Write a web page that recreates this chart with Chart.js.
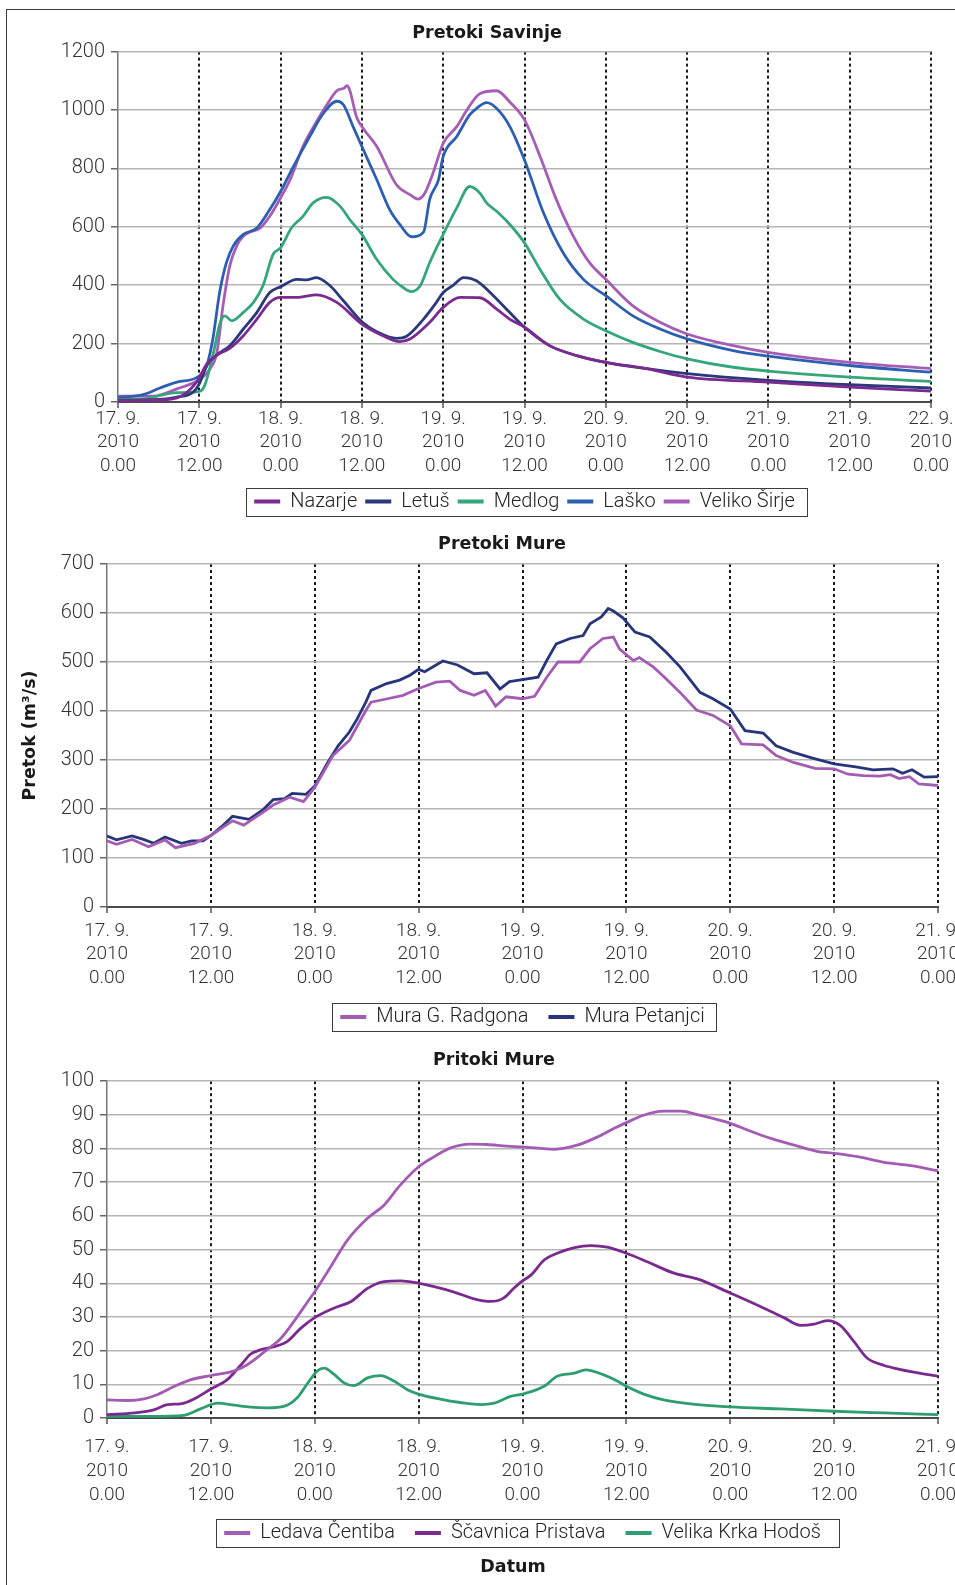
<!DOCTYPE html>
<html>
<head>
<meta charset="utf-8">
<title>Pretoki Savinje in Mure</title>
<script src="https://cdn.jsdelivr.net/npm/chart.js@4.4.1/dist/chart.umd.min.js"></script>
<style>
  html, body { margin: 0; padding: 0; background: #fff; overflow: hidden; width: 955px; height: 1585px; }
  #frame { position: absolute; left: 6px; top: 9px; width: 1000px; height: 1600px;
           border-left: 1px solid #3a3a3a; border-top: 1px solid #3a3a3a; }
  canvas { position: absolute; left: 0; }
  #datum { position: absolute; left: 453px; width: 120px; top: 1555px; height: 22px; line-height: 22px;
           text-align: center; font-family: "DejaVu Sans", sans-serif; font-weight: bold; font-size: 17.5px; color: #1a1a1a; }
</style>
</head>
<body>
<div id="frame"></div>
<canvas id="savinje" width="1000" height="510" style="top:12px"></canvas>
<canvas id="mura" width="1070" height="514" style="top:524px"></canvas>
<canvas id="pritoki" width="1000" height="516" style="top:1040px"></canvas>
<div id="datum">Datum</div>
<script>
// ---- time axis labels (hours from 17. 9. 2010 0.00, every 12 h) ----
const tickDays = ['17. 9.', '17. 9.', '18. 9.', '18. 9.', '19. 9.', '19. 9.', '20. 9.', '20. 9.', '21. 9.', '21. 9.', '22. 9.'];
const tickTimes = ['0.00', '12.00', '0.00', '12.00', '0.00', '12.00', '0.00', '12.00', '0.00', '12.00', '0.00'];
const tickYear = '2010';

// ---- Pretoki Savinje (m3/s) ----
const nazarjeHours = [0, 5, 8.7, 11.6, 13.1, 14.6, 16.5, 18.5, 20.5, 22.4, 24, 26.4, 29.3, 32.3, 36, 39.1, 41.6, 43.1, 46, 48, 50.5, 53.4, 55.9, 57.8, 60, 63.7, 67.7, 72, 78, 84, 96, 108, 120];
const nazarjeFlow  = [5, 6, 14, 68, 130, 161, 184, 227, 284, 341, 358, 358, 367, 341, 267, 227, 207, 216, 273, 324, 358, 357, 318, 284, 256, 193, 159, 136, 114, 85, 68, 51, 37];

const letusHours = [0, 6.2, 8.7, 11.1, 12, 13.1, 14.6, 16.5, 18.5, 20.5, 22.4, 24, 26.4, 27.8, 29.3, 31.3, 33.3, 36, 38.2, 41.1, 42.6, 45.1, 47, 48, 49.5, 51, 52.9, 55.4, 57.8, 60, 63.7, 67.7, 72, 78, 84, 96, 108, 120];
const letusFlow  = [6, 9, 17, 34, 62, 125, 161, 193, 250, 307, 375, 395, 420, 418, 426, 398, 346, 275, 241, 218, 225, 284, 341, 375, 400, 426, 415, 364, 307, 256, 193, 159, 136, 114, 97, 74, 59, 48];

const medlogHours = [0, 3.7, 8.7, 12, 12.8, 14.1, 15.1, 15.8, 16.8, 18.5, 20, 21.4, 22.9, 24, 25.6, 27.3, 28.8, 30.8, 32.8, 34.2, 36, 38.2, 40.6, 42.1, 43.3, 44.6, 46, 48, 50, 51.9, 53.4, 54.4, 55.9, 58.3, 60, 62.3, 65.2, 68.7, 72, 76, 80, 84, 90.8, 96, 108, 120];
const medlogFlow  = [9, 11, 32, 36, 57, 170, 273, 295, 278, 307, 341, 398, 506, 528, 596, 636, 682, 701, 670, 625, 574, 488, 420, 392, 378, 398, 477, 574, 665, 738, 716, 682, 653, 596, 545, 454, 352, 284, 244, 204, 173, 148, 119, 106, 85, 70];

const laskoHours = [0, 3.7, 6.2, 8.7, 12, 13.1, 14, 15, 16, 17, 18.5, 20.5, 22.4, 24, 25.9, 28.3, 30.3, 32.3, 33.3, 34.7, 36, 38.2, 40.1, 41.6, 43.3, 45.1, 46, 47.3, 48, 50, 51.9, 52.9, 54.4, 55.9, 57.8, 60, 62.8, 65.7, 68.7, 72, 76, 80, 84, 90.8, 96, 108, 120];
const laskoFlow  = [15, 25, 48, 68, 89, 125, 216, 375, 477, 534, 574, 596, 659, 721, 807, 909, 988, 1030, 1017, 943, 875, 761, 659, 608, 566, 582, 693, 761, 841, 909, 983, 1005, 1025, 1005, 945, 829, 648, 511, 420, 364, 295, 250, 216, 176, 157, 125, 102];

const sirjeHours = [0, 5.2, 8.7, 12, 13.6, 14.6, 15.5, 16.5, 17.5, 18.5, 19.5, 21, 22.4, 24, 25.4, 27.3, 29.3, 30.8, 32.3, 33.3, 33.8, 34.2, 35.2, 36.2, 38.2, 41.1, 43.1, 44.3, 45.3, 46.5, 48, 50, 51.5, 53.4, 55.9, 57.8, 60, 62.3, 64.7, 67.2, 69.6, 72, 76, 80, 84, 90.8, 96, 108, 120];
const sirjeFlow  = [20, 20, 45, 77, 114, 170, 330, 466, 534, 568, 582, 596, 636, 699, 761, 875, 960, 1017, 1066, 1074, 1083, 1068, 977, 937, 875, 744, 710, 695, 716, 784, 886, 943, 1000, 1056, 1066, 1028, 966, 841, 693, 568, 477, 420, 329, 273, 233, 193, 170, 136, 114];

// ---- Pretoki Mure (m3/s) ----
const radgonaHours = [0, 1.1, 2.9, 4.8, 6.7, 7.9, 10.1, 12, 14.5, 15.8, 18, 19.2, 21.1, 22.7, 24, 26.1, 28, 29.9, 30.5, 32.4, 34.2, 36, 38, 39.6, 40.8, 42.4, 43.7, 44.9, 46.1, 48, 49.4, 50.8, 52.1, 54.6, 55.8, 57.3, 58.5, 59.2, 60.8, 61.5, 63.1, 64.4, 66.2, 68.1, 70, 72, 73.3, 75.8, 77.3, 79.3, 81.8, 84, 85.6, 87.4, 89.3, 90.5, 91.5, 92.7, 93.8, 96];
const radgonaFlow  = [135, 128, 138, 123, 137, 121, 130, 146, 176, 167, 193, 208, 224, 215, 244, 309, 340, 401, 418, 425, 432, 446, 459, 461, 442, 432, 442, 410, 429, 425, 430, 469, 500, 500, 527, 548, 551, 527, 503, 509, 490, 469, 438, 402, 391, 370, 333, 331, 309, 295, 283, 282, 271, 268, 267, 270, 262, 266, 251, 248];

const petanjciHours = [0, 1.1, 2.9, 4.2, 5.4, 6.7, 8.6, 9.8, 11.1, 12, 13.3, 14.5, 16.4, 18, 19.2, 20.5, 21.4, 23, 24, 25.5, 26.7, 28, 28.9, 29.9, 30.5, 32.3, 33.8, 35, 36, 36.7, 38.8, 40.5, 42.4, 43.9, 45.4, 46.5, 48, 49.8, 50.8, 51.9, 53.5, 55, 55.8, 57.1, 57.9, 58.5, 59.6, 61, 62.7, 64.6, 66.2, 68.5, 70, 72, 73.7, 75.8, 77.3, 79.2, 81.5, 84, 86.5, 88.5, 90.8, 91.9, 93, 94.4, 96];
const petanjciFlow  = [145, 137, 145, 138, 130, 143, 130, 135, 135, 146, 165, 185, 179, 198, 219, 221, 232, 230, 247, 295, 329, 357, 384, 418, 442, 456, 463, 473, 485, 480, 502, 494, 476, 478, 445, 460, 464, 469, 503, 537, 548, 554, 578, 592, 609, 604, 590, 561, 551, 520, 490, 438, 425, 404, 360, 355, 329, 316, 304, 292, 286, 280, 282, 273, 280, 265, 266];

// ---- Pritoki Mure (m3/s) ----
const ledavaHours = [0, 2.4, 4.3, 5.8, 7.8, 9.7, 12, 14.7, 16.2, 18.5, 20.1, 21.6, 23.2, 24, 25.5, 27.8, 30.1, 32, 33.9, 36, 37.8, 39.7, 42, 43.9, 46.2, 48, 51.7, 54.3, 56.7, 58.6, 60, 62, 64.3, 66.3, 68.2, 70.1, 72, 74.3, 76.7, 79.7, 82, 84, 86.7, 89.8, 92.9, 96];
const ledavaFlow  = [5.4, 5.2, 5.7, 6.9, 9.4, 11.4, 12.6, 14.0, 15.8, 20.3, 23.7, 28.7, 34.6, 37.5, 43.5, 52.9, 59.3, 63.2, 69.2, 74.6, 77.6, 80.2, 81.3, 81.2, 80.7, 80.5, 79.8, 81, 83.5, 86, 87.7, 89.9, 91.1, 91.1, 90.1, 88.9, 87.5, 85.2, 83, 80.8, 79.2, 78.6, 77.6, 75.9, 74.9, 73.4];

const scavnicaHours = [0, 3.2, 5.5, 7, 8.5, 10.1, 12, 13.9, 15.5, 16.6, 17.8, 19.3, 20.8, 22.4, 24, 26.2, 28.2, 30.1, 32, 33.9, 36, 37.8, 40.1, 42.4, 44.3, 45.8, 47, 48, 49, 50.5, 52, 54, 55.9, 57.8, 60, 62.4, 65.5, 68.2, 72, 75.9, 78.2, 80.1, 81.7, 83.2, 84.7, 86.3, 87.8, 89.8, 91.3, 93.2, 96];
const scavnicaFlow  = [1.0, 1.5, 2.5, 4.0, 4.2, 5.7, 8.6, 11.4, 15.8, 19, 20.3, 21.2, 22.7, 26.7, 29.8, 32.6, 34.6, 38.5, 40.5, 40.7, 40.0, 39.0, 37.4, 35.4, 34.6, 35.6, 38.5, 40.7, 42.5, 46.9, 48.9, 50.6, 51.2, 50.7, 48.9, 46.4, 43, 41.3, 37.1, 32.6, 29.8, 27.5, 27.9, 28.9, 27.5, 22.7, 17.8, 15.6, 14.6, 13.6, 12.4];

const krkaHours = [0, 5.1, 8.9, 10.8, 12.8, 14.7, 16.6, 18.5, 20.5, 22, 23.2, 24.3, 25.1, 26.2, 27.4, 28.5, 30.1, 31.6, 33.2, 34.7, 36, 38.5, 40.8, 43.2, 44.7, 46.6, 48, 50.5, 52, 54, 55.3, 57.4, 59, 60, 62, 64.3, 67.4, 72, 77.8, 84, 89.8, 96];
const krkaFlow  = [0.5, 0.5, 0.8, 2.7, 4.4, 3.8, 3.2, 3.0, 3.5, 6.1, 10.4, 14.0, 14.8, 13.0, 10.4, 9.6, 11.9, 12.6, 10.9, 8.4, 7.1, 5.6, 4.6, 4.0, 4.4, 6.4, 7.1, 9.4, 12.4, 13.3, 14.3, 12.8, 10.9, 9.4, 7.1, 5.4, 4.2, 3.3, 2.7, 2.0, 1.5, 1.0];

// ---- shared styling ----
Chart.defaults.font.family = "Roboto, 'Liberation Sans', sans-serif";
Chart.defaults.color = '#333';
const headFont = "'DejaVu Sans', sans-serif";

const points = (hours, values) => hours.map((h, i) => ({ x: h, y: values[i] }));

function series(label, hours, values, color, smooth) {
  return {
    label, data: points(hours, values), borderColor: color, backgroundColor: color,
    borderWidth: 2.8, pointRadius: 0, fill: false,
    cubicInterpolationMode: smooth ? 'monotone' : 'default', tension: 0
  };
}

// thin frame round the legend entries
const legendFrame = {
  id: 'legendFrame',
  defaults: { left: 8, right: 12 },
  afterDraw(chart, args, opts) {
    const hb = chart.legend && chart.legend.legendHitBoxes;
    if (!hb || !hb.length) return;
    const first = hb[0], last = hb[hb.length - 1];
    const cy = first.top + first.height / 2;
    const x0 = Math.round(first.left - opts.left) + 0.5;
    const x1 = Math.round(last.left + last.width + opts.right) + 0.5;
    const y0 = Math.round(cy - 14) + 0.5, y1 = Math.round(cy + 14) + 0.5;
    const ctx = chart.ctx;
    ctx.save();
    ctx.strokeStyle = '#3c3c3c';
    ctx.lineWidth = 1;
    ctx.strokeRect(x0, y0, x1 - x0, y1 - y0);
    ctx.restore();
  }
};

function xAxis(maxHour, height, labelPad) {
  return {
    type: 'linear', min: 0, max: maxHour,
    ticks: {
      stepSize: 12, autoSkip: false, maxRotation: 0, color: '#333', padding: labelPad,
      font: { size: 19, weight: 300, lineHeight: 1.25 },
      callback: (v, i) => [tickDays[i], tickYear, tickTimes[i]]
    },
    grid: {
      color: c => (c.index === 0 ? 'rgba(0,0,0,0)' : '#1a1a1a'),
      lineWidth: 2, tickLength: 6, tickColor: '#555', tickWidth: 1.5
    },
    border: { color: '#4a4a4a', width: 2, dash: [3, 3] },
    afterFit: s => { s.height = height; }
  };
}

function yAxis(max, step, width, title) {
  return {
    type: 'linear', min: 0, max: max,
    ticks: { stepSize: step, color: '#333', padding: 6, font: { size: 20, weight: 300 }, callback: v => String(v) },
    grid: { color: '#b5b5b5', lineWidth: 1.5, tickLength: 7, tickColor: '#666' },
    border: { color: '#777', width: 1.5 },
    title: title || { display: false },
    afterFit: s => { s.width = width; }
  };
}

// empty right-hand strip that only reserves room
function rightSpacer(width) {
  return {
    type: 'linear', axis: 'y', position: 'right', display: true,
    ticks: { display: false }, grid: { display: false }, border: { display: false },
    afterFit: s => { s.width = width; }
  };
}

function legendOpts(gap) {
  return {
    position: 'bottom', fullSize: false,
    labels: {
      usePointStyle: true, pointStyle: 'line', pointStyleWidth: 26, padding: gap,
      color: '#222', font: { size: 20, weight: 300 },
      generateLabels(chart) {
        const items = Chart.defaults.plugins.legend.labels.generateLabels(chart);
        items.forEach(it => { it.lineWidth = 4; });
        return items;
      }
    }
  };
}

function titleOpts(text, padTop, padBottom) {
  return {
    display: true, text, color: '#1a1a1a',
    font: { family: headFont, size: 17.5, weight: 'bold', lineHeight: 1.2 },
    padding: { top: padTop, bottom: padBottom }
  };
}

function baseOptions(layoutPad, title, legend, frame, scales) {
  return {
    responsive: false, animation: false, devicePixelRatio: 1,
    layout: { padding: layoutPad },
    plugins: { title, legend, legendFrame: frame, tooltip: { enabled: false } },
    scales
  };
}

// Pretoki Savinje
new Chart(document.getElementById('savinje'), {
  type: 'line',
  data: {
    datasets: [
      series('Nazarje', nazarjeHours, nazarjeFlow, '#7b2b8f', true),
      series('Letuš', letusHours, letusFlow, '#2a387c', true),
      series('Medlog', medlogHours, medlogFlow, '#35a57a', true),
      series('Laško', laskoHours, laskoFlow, '#2c5fb0', true),
      series('Veliko Širje', sirjeHours, sirjeFlow, '#a55db5', true)
    ]
  },
  options: baseOptions(
    { left: 43, right: 69, top: 0, bottom: 0.5 },
    titleOpts('Pretoki Savinje', 10.5, 8.1),
    legendOpts(8),
    { left: 8, right: 12 },
    { x: xAxis(120, 81.5, -1), y: yAxis(1200, 200, 75) }
  ),
  plugins: [legendFrame]
});

// Pretoki Mure
new Chart(document.getElementById('mura'), {
  type: 'line',
  data: {
    datasets: [
      series('Mura G. Radgona', radgonaHours, radgonaFlow, '#a45bb3', false),
      series('Mura Petanjci', petanjciHours, petanjciFlow, '#27357a', false)
    ]
  },
  options: baseOptions(
    { left: 0, right: 66, top: 0, bottom: 1 },
    titleOpts('Pretoki Mure', 10.2, 8.8),
    legendOpts(20),
    { left: 8, right: 11 },
    {
      x: xAxis(96, 80, 6),
      y: yAxis(700, 100, 107, {
        display: true, text: 'Pretok (m³/s)', color: '#1a1a1a',
        font: { family: headFont, size: 17.5, weight: 'bold', lineHeight: 1.2 },
        padding: { top: 19.5, bottom: 0 }
      }),
      ySpace: rightSpacer(66)
    }
  ),
  plugins: [legendFrame]
});

// Pritoki Mure
new Chart(document.getElementById('pritoki'), {
  type: 'line',
  data: {
    datasets: [
      series('Ledava Čentiba', ledavaHours, ledavaFlow, '#a45bb3', true),
      series('Ščavnica Pristava', scavnicaHours, scavnicaFlow, '#7a2a8e', true),
      series('Velika Krka Hodoš', krkaHours, krkaFlow, '#2e9d6f', true)
    ]
  },
  options: baseOptions(
    { left: 50, right: 62, top: 0, bottom: 3 },
    titleOpts('Pritoki Mure', 9.8, 10.4),
    legendOpts(20),
    { left: 8, right: 18 },
    { x: xAxis(96, 85, 11.6), y: yAxis(100, 10, 57) }
  ),
  plugins: [legendFrame]
});
</script>
</body>
</html>
